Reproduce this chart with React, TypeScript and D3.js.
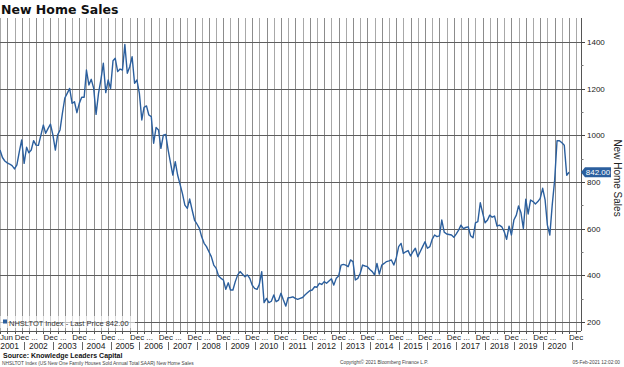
import React, { useEffect, useRef } from 'react';
import * as d3 from 'd3';

// NHSLTOT Index, US new one-family houses sold (SAAR, thousands), monthly from Mar 2001
const START = new Date(2001, 2, 1);
const sales: number[] = [
  937, 905, 890, 882, 877, 870, 856, 873, 930, 980, // 2001 Mar-Dec
  880, 949, 925, 937, 977, 958, 957, 1000, 1044, 1009, 1030, 1048, // 2002
  1001, 937, 1001, 1023, 1094, 1160, 1180, 1201, 1137, 1144, 1097, 1137, // 2003
  1163, 1163, 1280, 1216, 1240, 1201, 1090, 1180, 1240, 1309, 1183, 1237, // 2004
  1201, 1320, 1330, 1273, 1284, 1280, 1389, 1266, 1294, 1337, 1223, 1237, // 2005
  1180, 1066, 1120, 1126, 1087, 1080, 966, 1034, 1023, 944, 1001, 1004, // 2006
  937, 880, 830, 887, 830, 790, 750, 701, 687, 727, 680, 637, // 2007
  620, 601, 565, 537, 523, 501, 480, 444, 430, 397, 387, 380, // 2008
  340, 368, 337, 337, 373, 402, 416, 405, 394, 402, 387, 358, // 2009
  344, 340, 360, 416, 283, 301, 283, 289, 316, 287, 294, 323, // 2010
  294, 268, 304, 305, 308, 301, 297, 301, 305, 316, 325, 334, // 2011
  337, 351, 349, 366, 361, 373, 366, 376, 385, 358, 387, 397, // 2012
  444, 447, 444, 437, 466, 459, 380, 387, 409, 444, 440, 437, // 2013
  425, 416, 402, 451, 405, 444, 451, 459, 462, 466, 444, 473, // 2014
  523, 537, 494, 501, 506, 483, 501, 516, 480, 501, 523, 544, // 2015
  516, 523, 554, 573, 566, 569, 637, 585, 577, 575, 573, 563, // 2016
  578, 595, 615, 600, 605, 608, 570, 561, 625, 630, 711, 668, // 2017
  625, 637, 658, 649, 654, 611, 615, 608, 587, 554, 611, 573, // 2018
  637, 658, 697, 668, 601, 726, 663, 723, 716, 706, 716, 730, // 2019
  773, 723, 615, 573, 701, 808, 977, 977, 968, 958, 829, 842, // 2020
];

const yTicks = [200, 400, 600, 800, 1000, 1200, 1400];
const yearLabels = ['2001', '2002', '2003', '2004', '2005', '2006', '2007', '2008', '2009', '2010',
  '2011', '2012', '2013', '2014', '2015', '2016', '2017', '2018', '2019', '2020'];
const lastPrice = 842.0;

const BLUE = '#2b5f9e';
const FONT = '"Liberation Sans", Arial, sans-serif';

export default function App() {
  const svgRef = useRef<SVGSVGElement>(null);

  useEffect(() => {
    if (!svgRef.current) return;
    const svg = d3.select(svgRef.current);
    svg.selectAll('*').remove();

    const left = 0, right = 581, top = 18, bottom = 331;

    const x = d3.scaleTime().domain([START, new Date(2021, 4, 1)]).range([left, right]);
    const y = d3.scaleLinear().domain([200, 1400]).range([322, 42]);
    const dates = sales.map((_, i) => new Date(2001, 2 + i, 1));

    svg.append('rect').attr('width', 624).attr('height', 367).attr('fill', '#fff');

    // title
    svg.append('text')
      .attr('x', 1).attr('y', 14)
      .style('font-family', '"DejaVu Sans", sans-serif')
      .style('font-weight', 'bold')
      .style('font-size', '12.5px')
      .attr('fill', '#111')
      .text('New Home Sales');

    // quarterly vertical grid (Mar, Jun, Sep, Dec)
    const quarters = d3.timeMonths(START, new Date(2021, 4, 1)).filter(d => d.getMonth() % 3 === 2);
    svg.append('g').selectAll('line').data(quarters).enter().append('line')
      .attr('x1', d => Math.round(x(d)) + 0.5).attr('x2', d => Math.round(x(d)) + 0.5)
      .attr('y1', top).attr('y2', bottom)
      .attr('stroke', d => (d.getMonth() === 11 || d.getMonth() === 5 ? '#8c8c8c' : '#a8a8a8'))
      .attr('stroke-width', 1);

    // horizontal grid
    svg.append('g').selectAll('line').data(yTicks).enter().append('line')
      .attr('x1', left).attr('x2', right)
      .attr('y1', d => Math.round(y(d)) + 0.5).attr('y2', d => Math.round(y(d)) + 0.5)
      .attr('stroke', '#5e5e5e').attr('stroke-width', 1);

    // legend box
    svg.append('rect').attr('x', 0).attr('y', 316).attr('width', 135).attr('height', 12)
      .attr('fill', '#fff').attr('fill-opacity', 0.6);
    svg.append('rect').attr('x', 3).attr('y', 319.5).attr('width', 4).attr('height', 4).attr('fill', BLUE);
    svg.append('text').attr('x', 9).attr('y', 325.5)
      .style('font-family', FONT).style('font-size', '7.5px').attr('fill', '#333')
      .text(`NHSLTOT Index - Last Price ${lastPrice.toFixed(2)}`);

    // series
    svg.append('clipPath').attr('id', 'plotclip').append('rect')
      .attr('x', left).attr('y', top).attr('width', right - left).attr('height', bottom - top);
    const line = d3.line<number>()
      .x((_, i) => x(dates[i]))
      .y(d => y(d));
    svg.append('path')
      .datum(sales)
      .attr('clip-path', 'url(#plotclip)')
      .attr('d', line)
      .attr('fill', 'none')
      .attr('stroke', BLUE)
      .attr('stroke-width', 1.4)
      .attr('stroke-linejoin', 'round');

    // right axis
    svg.append('line').attr('x1', right + 0.5).attr('x2', right + 0.5).attr('y1', top).attr('y2', bottom)
      .attr('stroke', '#555');
    const minor = d3.range(300, 1400, 200);
    svg.append('g').selectAll('line').data(minor).enter().append('line')
      .attr('x1', right).attr('x2', right + 2.5)
      .attr('y1', d => Math.round(y(d)) + 0.5).attr('y2', d => Math.round(y(d)) + 0.5)
      .attr('stroke', '#777');
    svg.append('g').selectAll('line').data(yTicks).enter().append('line')
      .attr('x1', right).attr('x2', right + 4)
      .attr('y1', d => Math.round(y(d)) + 0.5).attr('y2', d => Math.round(y(d)) + 0.5)
      .attr('stroke', '#444');
    svg.append('g').selectAll('text').data(yTicks).enter().append('text')
      .attr('x', right + 6).attr('y', d => y(d) + 3)
      .style('font-family', FONT).style('font-size', '8px').attr('fill', '#222')
      .text(d => String(d));

    // last value tag
    const yl = y(lastPrice);
    svg.append('path')
      .attr('d', `M${right},${yl} L${right + 4},${yl - 5} L611,${yl - 5} L611,${yl + 5} L${right + 4},${yl + 5} Z`)
      .attr('fill', BLUE);
    svg.append('text').attr('x', 598).attr('y', yl + 3).attr('text-anchor', 'middle')
      .style('font-family', FONT).style('font-size', '8px').attr('fill', '#fff')
      .text(lastPrice.toFixed(2));

    svg.append('text')
      .attr('transform', 'translate(614,178) rotate(90)')
      .attr('text-anchor', 'middle')
      .style('font-family', FONT).style('font-size', '10px').attr('fill', '#222')
      .text('New Home Sales');

    // bottom axis
    svg.append('line').attr('x1', left).attr('x2', right).attr('y1', bottom + 0.5).attr('y2', bottom + 0.5)
      .attr('stroke', '#555');
    svg.append('g').selectAll('line').data(quarters).enter().append('line')
      .attr('x1', d => Math.round(x(d)) + 0.5).attr('x2', d => Math.round(x(d)) + 0.5)
      .attr('y1', bottom).attr('y2', bottom + 3)
      .attr('stroke', '#555');

    const decs = quarters.filter(d => d.getMonth() === 11);
    svg.append('text').attr('x', 0).attr('y', 340)
      .style('font-family', FONT).style('font-size', '8px').attr('fill', '#222').text('Jun');
    svg.append('g').selectAll('text').data(decs).enter().append('text')
      .attr('x', (d, i) => (i === decs.length - 1 ? 569 : x(d) - 7))
      .attr('y', 340)
      .style('font-family', FONT).style('font-size', '8px').attr('fill', '#222')
      .text((d, i) => (i === decs.length - 1 ? 'Dec' : 'Dec ...'));

    svg.append('g').selectAll('text').data(yearLabels).enter().append('text')
      .attr('x', d => x(new Date(+d, 6, 1)))
      .attr('y', 349)
      .attr('text-anchor', 'middle')
      .style('font-family', FONT).style('font-size', '8.5px').attr('fill', '#222')
      .text(d => d);
    const seps = yearLabels.map(d => new Date(+d + 1, 0, 1));
    svg.append('g').selectAll('line').data(seps).enter().append('line')
      .attr('x1', d => Math.round(x(d)) + 0.5).attr('x2', d => Math.round(x(d)) + 0.5)
      .attr('y1', 342).attr('y2', 350)
      .attr('stroke', '#666');

    // footer
    svg.append('text').attr('x', 3).attr('y', 358)
      .style('font-family', FONT).style('font-size', '7px').style('font-weight', 'bold').attr('fill', '#111')
      .text('Source: Knowledge Leaders Capital');
    svg.append('text').attr('x', 2).attr('y', 365)
      .style('font-family', FONT).style('font-size', '4.8px').attr('fill', '#444')
      .text('NHSLTOT Index (US New One Family Houses Sold Annual Total SAAR) New Home Sales');
    svg.append('text').attr('x', 340).attr('y', 364)
      .style('font-family', FONT).style('font-size', '4.8px').attr('fill', '#444')
      .text('Copyright\u00a9 2021 Bloomberg Finance L.P.');
    svg.append('text').attr('x', 620).attr('y', 364).attr('text-anchor', 'end')
      .style('font-family', FONT).style('font-size', '4.8px').attr('fill', '#444')
      .text('05-Feb-2021 12:02:00');
  }, []);

  return (
    <svg
      ref={svgRef}
      width={624}
      height={367}
      style={{ position: 'absolute', left: 0, top: 0, display: 'block' }}
    />
  );
}
